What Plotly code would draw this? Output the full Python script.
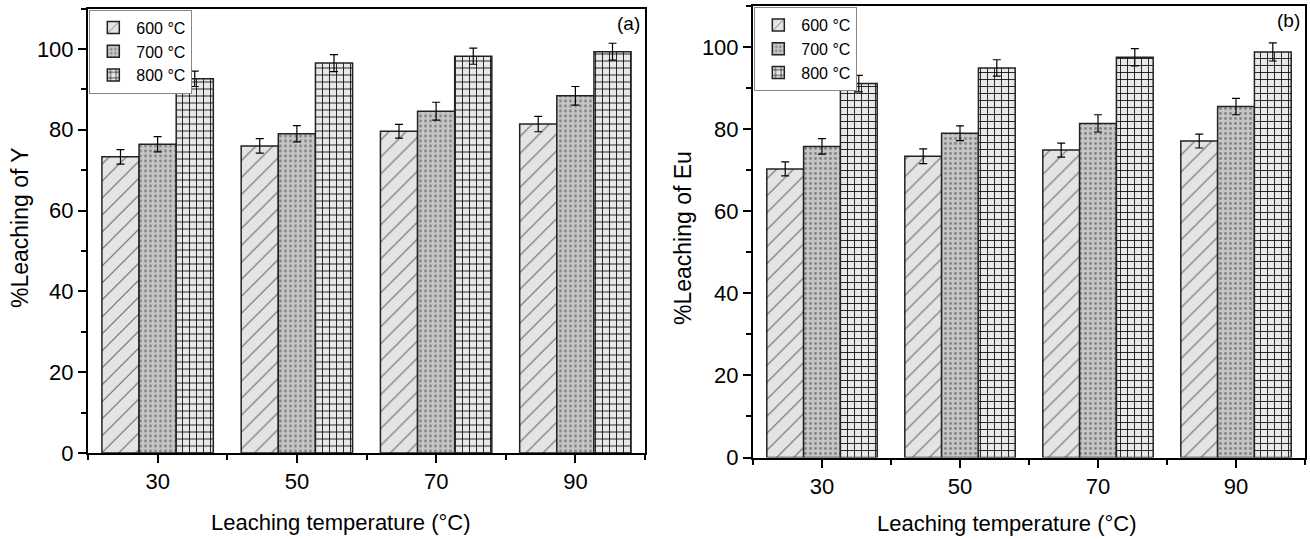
import plotly.graph_objects as go

temps = [30, 50, 70, 90]
series = ["600 °C", "700 °C", "800 °C"]

y_600 = [73.3, 76.0, 79.6, 81.4]
y_700 = [76.4, 79.0, 84.6, 88.4]
y_800 = [92.6, 96.5, 98.2, 99.3]
y_600_err = [1.8, 1.8, 1.7, 1.9]
y_700_err = [1.9, 2.0, 2.2, 2.3]
y_800_err = [1.9, 2.1, 2.0, 2.1]

eu_600 = [70.3, 73.4, 74.9, 77.1]
eu_700 = [75.8, 79.0, 81.4, 85.5]
eu_800 = [91.1, 94.9, 97.5, 98.8]
eu_600_err = [1.7, 1.8, 1.7, 1.7]
eu_700_err = [1.9, 1.8, 2.1, 2.0]
eu_800_err = [2.0, 2.0, 2.1, 2.2]

x_title = "Leaching temperature (°C)"
y_titles = ["%Leaching of Y", "%Leaching of Eu"]
panel_tags = ["(a)", "(b)"]

styles = [
    dict(shape="/", bgcolor="#e4e4e4", fgcolor="#6e6e6e", size=12, solidity=0.1),
    dict(shape=".", bgcolor="#c6c6c6", fgcolor="#858585", size=5, solidity=0.28),
    dict(shape="+", bgcolor="#e8e8e8", fgcolor="#000000", size=7, solidity=0.22),
]

FONT = "Arial, Liberation Sans, sans-serif"
fig = go.Figure()

panels = [
    (["x", "y", "legend"], [y_600, y_700, y_800], [y_600_err, y_700_err, y_800_err]),
    (["x2", "y2", "legend2"], [eu_600, eu_700, eu_800], [eu_600_err, eu_700_err, eu_800_err]),
]
for (xa, ya, lg), vals, errs in panels:
    for name, v, e, st in zip(series, vals, errs, styles):
        fig.add_trace(go.Bar(
            x=temps, y=v, name=name, xaxis=xa, yaxis=ya, legend=lg,
            marker=dict(color=st["bgcolor"], line=dict(color="#222222", width=1.5),
                        pattern=dict(shape=st["shape"], bgcolor=st["bgcolor"],
                                     fgcolor=st["fgcolor"], size=st["size"],
                                     solidity=st["solidity"], fillmode="replace")),
            error_y=dict(type="data", array=e, visible=True, color="black",
                         thickness=1.2, width=4),
        ))

def xax(domain, anchor):
    return dict(domain=domain, anchor=anchor, range=[20, 100], automargin=False,
                tickvals=temps, ticktext=[str(t) for t in temps],
                ticks="outside", ticklen=8, tickwidth=2, tickcolor="black",
                minor=dict(tickvals=[20, 40, 60, 80, 100], ticks="outside", ticklen=5,
                           tickwidth=2, tickcolor="black"),
                showline=True, linewidth=2, linecolor="black", mirror=True,
                showgrid=False, zeroline=False,
                tickfont=dict(size=22, color="black", family=FONT))

def yax(domain, anchor):
    return dict(domain=domain, anchor=anchor, range=[0, 110], dtick=20, tick0=0,
                automargin=False,
                ticks="outside", ticklen=8, tickwidth=2, tickcolor="black",
                minor=dict(dtick=10, tick0=0, ticks="outside", ticklen=5,
                           tickwidth=2, tickcolor="black"),
                showline=True, linewidth=2, linecolor="black", mirror=True,
                showgrid=False, zeroline=False,
                tickfont=dict(size=22, color="black", family=FONT))

W, H = 1310, 539
xd1 = [88 / W, 645 / W]
yd1 = [1 - 453 / H, 1 - 8.5 / H]
xd2 = [753 / W, 1305 / W]
yd2 = [1 - 457.5 / H, 1 - 6 / H]

legend_common = dict(font=dict(size=16, color="black", family=FONT),
                     bgcolor="white", bordercolor="#888888", borderwidth=1,
                     xanchor="left", yanchor="top", tracegroupgap=0,
                     itemwidth=36)

def ann(text, x, y, size, angle=0, xanchor="center", yanchor="middle"):
    return dict(text=text, xref="paper", yref="paper", x=x, y=y, xanchor=xanchor,
                yanchor=yanchor, showarrow=False, textangle=angle,
                font=dict(size=size, color="black", family=FONT))

annotations = [
    ann(x_title, 340 / W, 1 - 522 / H, 22),
    ann(x_title, 1006 / W, 1 - 523 / H, 22),
    ann(y_titles[0], 20 / W, 1 - 228 / H, 23, angle=-90),
    ann(y_titles[1], 683 / W, 1 - 238 / H, 23, angle=-90),
    ann(panel_tags[0], xd1[1] - 0.002, yd1[1] - 0.004, 19, xanchor="right", yanchor="top"),
    ann(panel_tags[1], xd2[1] - 0.002, yd2[1] - 0.004, 19, xanchor="right", yanchor="top"),
]

fig.update_layout(
    width=W, height=H, margin=dict(l=0, r=0, t=0, b=0, autoexpand=False),
    paper_bgcolor="white", plot_bgcolor="white",
    barmode="group", bargap=0.2, bargroupgap=0,
    font=dict(family=FONT, color="black"),
    xaxis=xax(xd1, "y"), yaxis=yax(yd1, "x"),
    xaxis2=xax(xd2, "y2"), yaxis2=yax(yd2, "x2"),
    legend=dict(x=xd1[0] + 0.001, y=yd1[1] - 0.002, **legend_common),
    legend2=dict(x=xd2[0] + 0.001, y=yd2[1] - 0.002, **legend_common),
    annotations=annotations,
)

fig.write_html("out.html")
